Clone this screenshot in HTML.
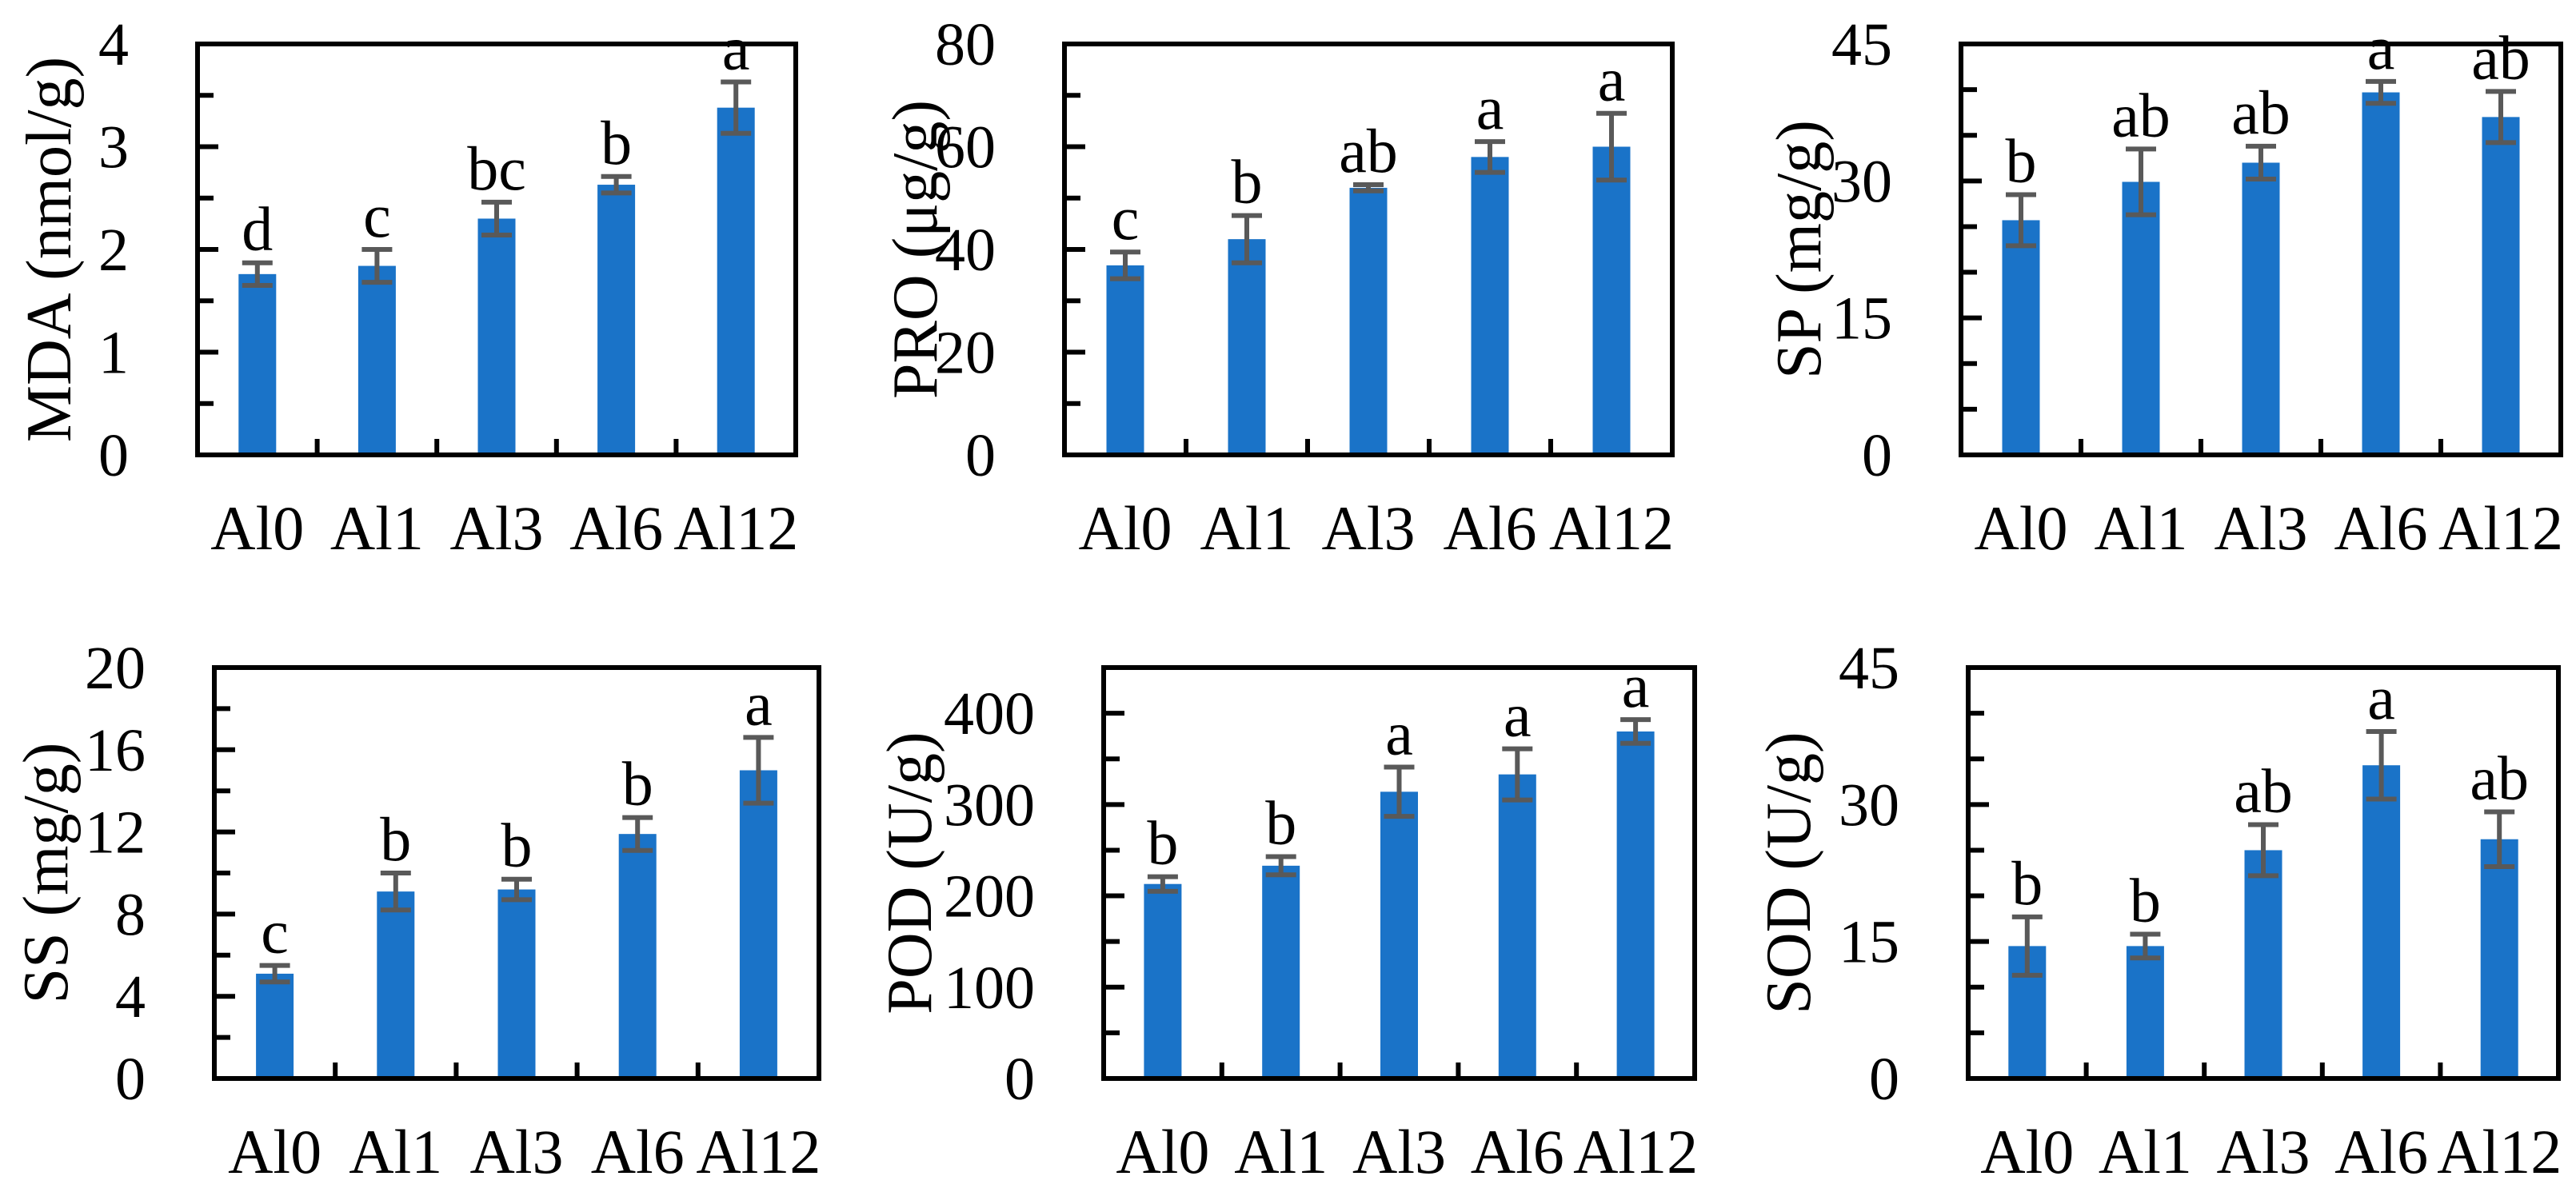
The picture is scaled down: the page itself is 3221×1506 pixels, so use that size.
<!DOCTYPE html>
<html><head><meta charset="utf-8"><style>
html,body{margin:0;padding:0;background:#fff;}
svg{display:block;font-family:"Liberation Serif",serif;}
</style></head><body>
<svg id="fig" width="3221" height="1506" viewBox="0 0 3221 1506" xmlns="http://www.w3.org/2000/svg"></svg>
<script>
const categories = ["Al0","Al1","Al3","Al6","Al12"];
const mdaValues = [1.76,1.84,2.30,2.63,3.38];
const mdaErrors = [0.11,0.16,0.16,0.08,0.25];
const mdaLetters = ["d","c","bc","b","a"];
const proValues = [36.9,42.0,52.0,58.0,60.0];
const proErrors = [2.6,4.6,0.6,3.0,6.5];
const proLetters = ["c","b","ab","a","a"];
const spValues = [25.7,29.9,32.0,39.7,37.0];
const spErrors = [2.8,3.6,1.8,1.2,2.8];
const spLetters = ["b","ab","ab","a","ab"];
const ssValues = [5.1,9.1,9.2,11.9,15.0];
const ssErrors = [0.4,0.9,0.5,0.8,1.6];
const ssLetters = ["c","b","b","b","a"];
const podValues = [213,233,314,333,380];
const podErrors = [8,10,27,28,13];
const podLetters = ["b","b","a","a","a"];
const sodValues = [14.5,14.5,25.0,34.3,26.2];
const sodErrors = [3.2,1.3,2.8,3.7,3.0];
const sodLetters = ["b","b","ab","a","ab"];
const mdaTicks = [0,1,2,3,4];
const proTicks = [0,20,40,60,80];
const spTicks = [0,15,30,45];
const ssTicks = [0,4,8,12,16,20];
const podTicks = [0,100,200,300,400];
const sodTicks = [0,15,30,45];

const NS="http://www.w3.org/2000/svg";
const svg=document.getElementById('fig');
function mk(tag,attrs,parent){const e=document.createElementNS(NS,tag);for(const k in attrs)e.setAttribute(k,attrs[k]);(parent||svg).appendChild(e);return e;}

const panels=[
 {id:"mda",title:"MDA (nmol/g)",v:mdaValues,e:mdaErrors,l:mdaLetters,ticks:mdaTicks,max:4,minor:0.5,x0:247,x1:995,y0:55,y1:569,tx:62},
 {id:"pro",title:"PRO (\u03bcg/g)",v:proValues,e:proErrors,l:proLetters,ticks:proTicks,max:80,minor:10,x0:1331,x1:2091,y0:55,y1:569,tx:1145},
 {id:"sp",title:"SP (mg/g)",v:spValues,e:spErrors,l:spLetters,ticks:spTicks,max:45,minor:5,x0:2452,x1:3202,y0:55,y1:569,tx:2250},
 {id:"ss",title:"SS (mg/g)",v:ssValues,e:ssErrors,l:ssLetters,ticks:ssTicks,max:20,minor:2,x0:268,x1:1024,y0:835,y1:1349,tx:58},
 {id:"pod",title:"POD (U/g)",v:podValues,e:podErrors,l:podLetters,ticks:podTicks,max:450,minor:50,x0:1380,x1:2119,y0:835,y1:1349,tx:1138},
 {id:"sod",title:"SOD (U/g)",v:sodValues,e:sodErrors,l:sodLetters,ticks:sodTicks,max:45,minor:5,x0:2461,x1:3199,y0:835,y1:1349,tx:2237}
];

panels.forEach(p=>{
 const g=mk('g',{});
 
 
 const y=v=>p.y1-(v/p.max)*(p.y1-p.y0);
 const bw=(p.x1-p.x0)/categories.length;
 const cx=i=>p.x0+bw*(i+0.5);
 p.v.forEach((v,i)=>{
  const r=mk('rect',{x:cx(i)-23.5,y:y(v),width:47,height:p.y1-y(v),fill:'#1a73c8'},g);
  
  
 });
 p.v.forEach((v,i)=>{
  const hi=y(v+p.e[i]),lo=y(v-p.e[i]);
  const eg=mk('g',{stroke:'#595959','stroke-width':6,fill:'none'},g);
  
  
  mk('line',{x1:cx(i),x2:cx(i),y1:hi,y2:lo},eg);
  mk('line',{x1:cx(i)-19,x2:cx(i)+19,y1:hi,y2:hi},eg);
  mk('line',{x1:cx(i)-19,x2:cx(i)+19,y1:lo,y2:lo},eg);
  const t=mk('text',{x:cx(i),y:hi-16,'text-anchor':'middle','font-size':78,fill:'#000'},g);
  t.textContent=p.l[i];
  
  
 });
 const n=Math.round(p.max/p.minor);
 for(let k=1;k<n;k++){
  const v=k*p.minor;
  const isMajor=p.ticks.some(t=>Math.abs(t-v)<1e-6);
  mk('line',{x1:p.x0,x2:p.x0+(isMajor?26:20),y1:y(v),y2:y(v),stroke:'#000','stroke-width':6},g);
 }
 p.ticks.forEach(v=>{
  const t=mk('text',{x:p.x0-86,y:y(v)+26,'text-anchor':'end','font-size':76,fill:'#000'},g);
  t.textContent=String(v);
  
  
 });
 for(let i=1;i<categories.length;i++){
  mk('line',{x1:p.x0+bw*i,x2:p.x0+bw*i,y1:p.y1,y2:p.y1-20,stroke:'#000','stroke-width':6},g);
 }
 categories.forEach((c,i)=>{
  const t=mk('text',{x:cx(i),y:p.y1+118,'text-anchor':'middle','font-size':78,fill:'#000'},g);
  t.textContent=c;
  
  
 });
 const f=mk('rect',{x:p.x0,y:p.y0,width:p.x1-p.x0,height:p.y1-p.y0,fill:'none',stroke:'#000','stroke-width':6},g);
 
 
 const cy=(p.y0+p.y1)/2;
 const tt=mk('text',{x:p.tx,y:cy,'text-anchor':'middle','dominant-baseline':'central','font-size':80,fill:'#000',transform:'rotate(-90 '+p.tx+' '+cy+')'},g);
 tt.textContent=p.title;
 
 
});
</script>
</body></html>
